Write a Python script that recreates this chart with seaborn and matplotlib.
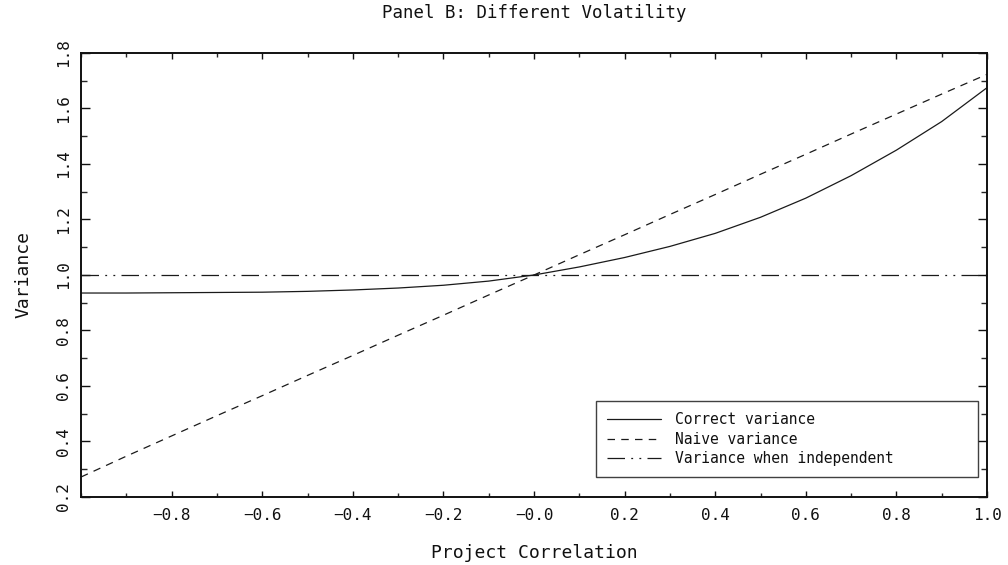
import numpy as np
import pandas as pd
import matplotlib
matplotlib.use("Agg")
import matplotlib.pyplot as plt
from matplotlib.ticker import MultipleLocator, FixedLocator, FixedFormatter
import seaborn as sns

# values
correlation = [-1.0, -0.9, -0.8, -0.7, -0.6, -0.5, -0.4, -0.3, -0.2, -0.1, 0.0,
               0.1, 0.2, 0.3, 0.4, 0.5, 0.6, 0.7, 0.8, 0.9, 1.0]
correct_variance = [0.935, 0.935, 0.936, 0.937, 0.938, 0.941, 0.946, 0.953, 0.963, 0.978, 1.0,
                    1.029, 1.063, 1.103, 1.150, 1.208, 1.277, 1.358, 1.450, 1.553, 1.675]
naive_variance = [0.272, 0.347, 0.420, 0.493, 0.565, 0.638, 0.710, 0.783, 0.855, 0.928, 1.0,
                  1.073, 1.145, 1.218, 1.290, 1.363, 1.435, 1.508, 1.580, 1.652, 1.723]
independent_variance = [1.0] * len(correlation)

series_names = ["Correct variance", "Naive variance", "Variance when independent"]

x_ticks = [-0.8, -0.6, -0.4, -0.2, 0.0, 0.2, 0.4, 0.6, 0.8, 1.0]
x_tick_labels = ["\u22120.8", "\u22120.6", "\u22120.4", "\u22120.2", "\u22120.0",
                 "0.2", "0.4", "0.6", "0.8", "1.0"]
y_ticks = [0.2, 0.4, 0.6, 0.8, 1.0, 1.2, 1.4, 1.6, 1.8]
y_tick_labels = ["0.2", "0.4", "0.6", "0.8", "1.0", "1.2", "1.4", "1.6", "1.8"]

df = pd.DataFrame({
    "corr": correlation * 3,
    "var": correct_variance + naive_variance + independent_variance,
    "series": sum([[n] * len(correlation) for n in series_names], []),
})

sns.set_theme(style="white")
plt.rcParams["font.family"] = ["DejaVu Sans Mono", "DejaVu Sans"]

fig = plt.figure(figsize=(10.08, 5.65), dpi=100)
ax = fig.add_axes([0.0804, 0.1204, 0.8988, 0.7858])

styles = {
    "Correct variance": "-",
    "Naive variance": (0, (6, 5)),
    "Variance when independent": (0, (14, 5, 1.5, 5, 1.5, 5)),
}
for name in series_names:
    sub = df[df["series"] == name]
    sns.lineplot(data=sub, x="corr", y="var", ax=ax, color="#1a1a1a",
                 linewidth=0.9, linestyle=styles[name], label=name)

ax.set_xlim(-1.0, 1.0)
ax.set_ylim(0.2, 1.8)

ax.xaxis.set_major_locator(FixedLocator(x_ticks))
ax.xaxis.set_major_formatter(FixedFormatter(x_tick_labels))
ax.xaxis.set_minor_locator(MultipleLocator(0.1))
ax.yaxis.set_major_locator(FixedLocator(y_ticks))
ax.yaxis.set_major_formatter(FixedFormatter(y_tick_labels))
ax.yaxis.set_minor_locator(MultipleLocator(0.1))

ax.tick_params(axis="x", which="major", direction="in", length=4.5, width=1,
               top=True, bottom=True, labelsize=11.5, pad=8, colors="#111")
ax.tick_params(axis="x", which="minor", direction="in", length=3, width=1,
               top=True, bottom=True)
ax.tick_params(axis="y", which="major", direction="in", length=6.5, width=1,
               left=True, right=True, labelsize=11.5, pad=7, colors="#111")
ax.tick_params(axis="y", which="minor", direction="in", length=4.3, width=1,
               left=True, right=True)
for lab in ax.get_yticklabels():
    lab.set_rotation(90)
    lab.set_va("center")

for sp in ax.spines.values():
    sp.set_visible(True)
    sp.set_color("#111")
    sp.set_linewidth(1.4)

ax.set_xlabel("Project Correlation", fontsize=13, labelpad=15, color="#111")
ax.set_ylabel("Variance", fontsize=13, labelpad=17, color="#111")
ax.set_title("Panel B: Different Volatility", fontsize=12.5, pad=25, color="#111")

leg = ax.legend(loc="lower left", bbox_to_anchor=(0.568, 0.045, 0.4216, 0.2),
                mode="expand", frameon=True, fancybox=False, fontsize=10.5,
                handlelength=3.7, handletextpad=1.0, labelspacing=0.3,
                borderpad=0.75, borderaxespad=0)
leg.get_frame().set_edgecolor("#111")
leg.get_frame().set_linewidth(1.0)
for t in leg.get_texts():
    t.set_color("#111")

fig.savefig("out.png", dpi=100)
